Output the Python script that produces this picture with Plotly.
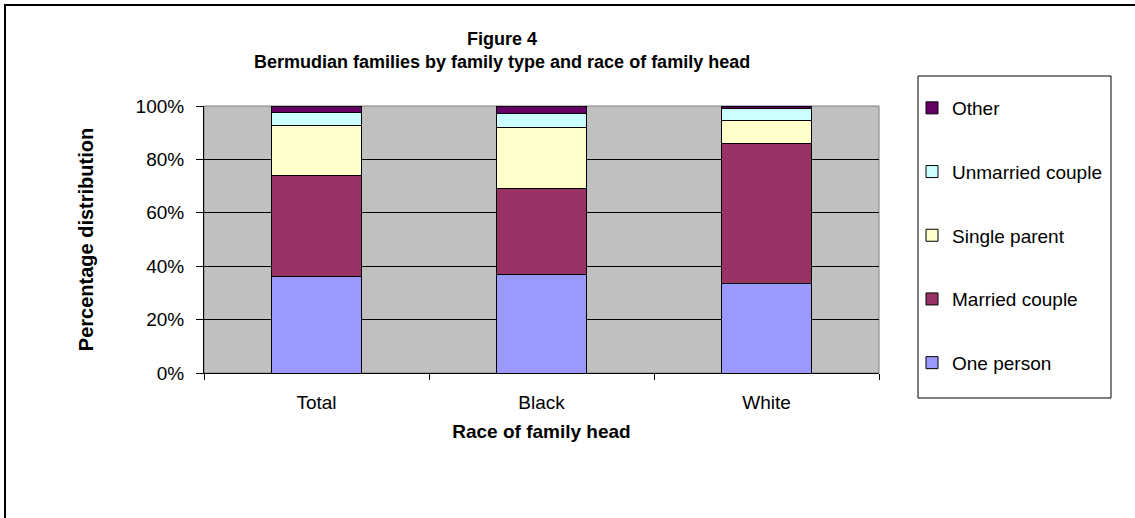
import plotly.graph_objects as go

# Race of family head (x categories)
races = ["Total", "Black", "White"]

# Percentage distribution of family types, stacked bottom to top
one_person = [36.0, 37.0, 33.6]
married_couple = [38.0, 32.1, 52.4]
single_parent = [18.6, 23.0, 8.6]
unmarried_couple = [4.8, 5.1, 4.4]
other = [2.6, 2.8, 1.0]

series = [
    ("One person", one_person, "#9999FF"),
    ("Married couple", married_couple, "#993366"),
    ("Single parent", single_parent, "#FFFFCC"),
    ("Unmarried couple", unmarried_couple, "#CCFFFF"),
    ("Other", other, "#660066"),
]

y_ticks = [0, 20, 40, 60, 80, 100]
y_tick_labels = ["0%", "20%", "40%", "60%", "80%", "100%"]

FONT = "Arial, 'Liberation Sans', sans-serif"

fig = go.Figure()
for i, (name, vals, color) in enumerate(series):
    fig.add_trace(go.Bar(
        x=races, y=vals, name=name, legendgroup=name,
        legendrank=len(series) - i,  # top segment listed first
        marker=dict(color=color, line=dict(color="#000000", width=1)),
    ))

W, H = 1135, 518
L, R, T, B = 204, 879, 106, 373
pw, ph = R - L, B - T

def px_x(x):
    return (x - L) / pw

def px_y(y):
    return (B - y) / ph

fig.update_layout(
    width=W, height=H,
    margin=dict(l=L, r=W - R, t=T, b=H - B),
    paper_bgcolor="#FFFFFF",
    plot_bgcolor="#C0C0C0",
    barmode="stack",
    bargap=0.596,
    font=dict(family=FONT, size=19, color="#000000"),
    showlegend=True,
    legend=dict(
        x=px_x(912), y=px_y(89), xanchor="left", yanchor="top",
        traceorder="grouped", tracegroupgap=36,
        bgcolor="rgba(0,0,0,0)", borderwidth=0,
        font=dict(size=19), itemwidth=30, maxheight=500,
    ),
    xaxis=dict(
        showline=True, linecolor="#000000", linewidth=1,
        ticks="outside", ticklen=6, tickcolor="#000000",
        tickson="boundaries", showgrid=False, ticklabelstandoff=12,
        title=dict(text="<b>Race of family head</b>", font=dict(size=19), standoff=12),
    ),
    yaxis=dict(
        range=[0, 100], tickvals=y_ticks, ticktext=y_tick_labels,
        showline=True, linecolor="#000000", linewidth=1,
        ticks="outside", ticklen=7, tickcolor="#000000",
        showgrid=True, gridcolor="#000000", gridwidth=1,
        zeroline=False, ticklabelstandoff=8,
        title=dict(text="<b>Percentage distribution</b>", font=dict(size=20), standoff=36),
    ),
    annotations=[dict(
        text="<b>Figure 4</b><br><b>Bermudian families by family type and race of family head</b>",
        xref="paper", yref="paper", x=px_x(502), y=px_y(51),
        xanchor="center", yanchor="middle", showarrow=False,
        font=dict(size=18), align="center",
    )],
    shapes=[
        # plot area border
        dict(type="rect", xref="paper", yref="paper", x0=0, x1=1, y0=0, y1=1,
             line=dict(color="#808080", width=1), layer="below"),
        # legend box
        dict(type="rect", xref="paper", yref="paper",
             x0=px_x(918), x1=px_x(1111), y0=px_y(398), y1=px_y(76),
             line=dict(color="#000000", width=1), fillcolor="rgba(0,0,0,0)"),
        # chart border
        dict(type="rect", xref="paper", yref="paper",
             x0=px_x(5), x1=px_x(1160), y0=px_y(540), y1=px_y(5),
             line=dict(color="#000000", width=2), fillcolor="rgba(0,0,0,0)"),
    ],
)

fig.write_html("out.html")
